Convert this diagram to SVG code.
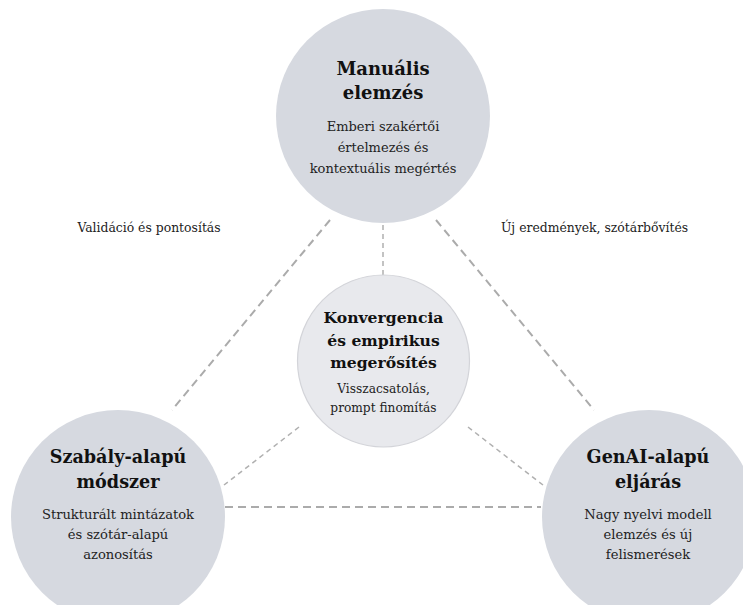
<svg xmlns="http://www.w3.org/2000/svg" width="743" height="605" viewBox="0 0 743 605">
<style>
.outer{fill:#d6d9e0}
.center{fill:#e8e9ed;stroke:#d3d4d9;stroke-width:1.2}
.t{font-family:"DejaVu Serif",serif;font-weight:bold;fill:#111;text-anchor:middle}
.b{font-family:"DejaVu Serif",serif;fill:#222;text-anchor:middle}
.lbl{font-family:"DejaVu Serif",serif;fill:#222;text-anchor:middle;font-size:12.4px}
.dl{stroke:#ababab;stroke-width:2;stroke-dasharray:8 5;fill:none}
.ds{stroke:#b0b0b0;stroke-width:1.5;stroke-dasharray:5 4;fill:none}
</style>
<rect width="743" height="605" fill="#ffffff"/>
<g id="connectors">
<line class="dl" x1="330" y1="220" x2="172" y2="410"/>
<line class="dl" x1="436" y1="220" x2="594" y2="410"/>
<line class="dl" x1="225" y1="507" x2="541" y2="507"/>
<line class="ds" x1="383" y1="225" x2="383" y2="275"/>
<line class="ds" x1="299" y1="427" x2="224" y2="485"/>
<line class="ds" x1="468" y1="427" x2="543" y2="485"/>
</g>
<g id="label-left"><text class="lbl" x="149" y="232">Validáció és pontosítás</text></g>
<g id="label-right"><text class="lbl" x="594.5" y="232">Új eredmények, szótárbővítés</text></g>
<g id="manual">
<circle class="outer" cx="383" cy="116" r="107"/>
<text class="t" font-size="18" x="383" y="75">Manuális</text>
<text class="t" font-size="18" x="383" y="99">elemzés</text>
<text class="b" font-size="13" x="383" y="131">Emberi szakértői</text>
<text class="b" font-size="13" x="383" y="152">értelmezés és</text>
<text class="b" font-size="13" x="383" y="173">kontextuális megértés</text>
</g>
<g id="center">
<circle class="center" cx="383.5" cy="361" r="86"/>
<text class="t" font-size="15.6" x="383.5" y="323">Konvergencia</text>
<text class="t" font-size="15.6" x="383.5" y="346">és empirikus</text>
<text class="t" font-size="15.6" x="383.5" y="368">megerősítés</text>
<text class="b" font-size="12.2" x="383.5" y="393">Visszacsatolás,</text>
<text class="b" font-size="12.2" x="383.5" y="412">prompt finomítás</text>
</g>
<g id="rule">
<circle class="outer" cx="118" cy="517" r="107"/>
<text class="t" font-size="17.6" x="118" y="463">Szabály-alapú</text>
<text class="t" font-size="17.6" x="118" y="488">módszer</text>
<text class="b" font-size="13.1" x="118" y="519">Strukturált mintázatok</text>
<text class="b" font-size="13.1" x="118" y="539">és szótár-alapú</text>
<text class="b" font-size="13.1" x="118" y="559">azonosítás</text>
</g>
<g id="genai">
<circle class="outer" cx="649" cy="517" r="107"/>
<text class="t" font-size="17.6" x="648" y="463">GenAI-alapú</text>
<text class="t" font-size="17.6" x="648" y="488">eljárás</text>
<text class="b" font-size="13.1" x="648" y="519">Nagy nyelvi modell</text>
<text class="b" font-size="13.1" x="648" y="539">elemzés és új</text>
<text class="b" font-size="13.1" x="648" y="559">felismerések</text>
</g>
</svg>
